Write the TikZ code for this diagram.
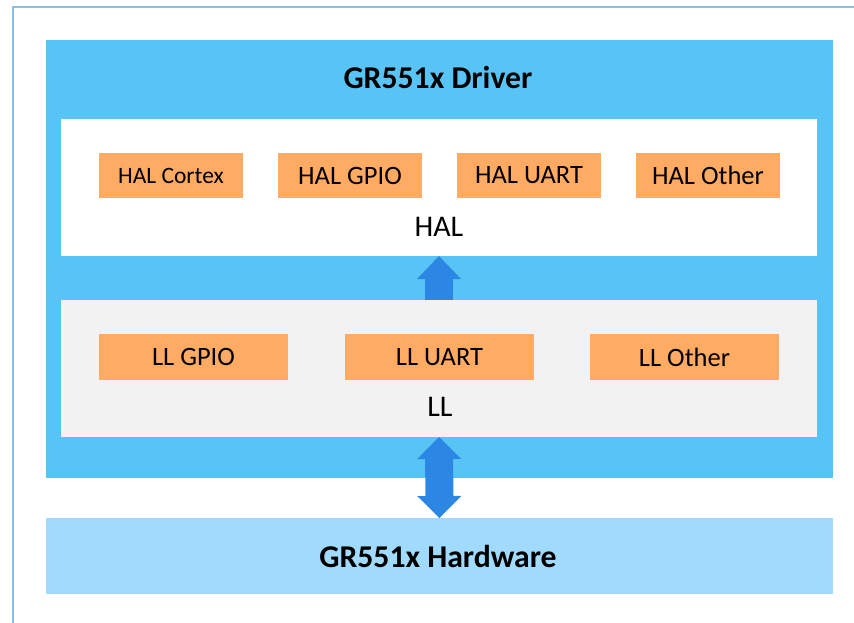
\documentclass[tikz,border=0pt]{standalone}
\usepackage{fontspec}
\setmainfont{Carlito}
\usepackage{xcolor}
\usetikzlibrary{arrows.meta}
\definecolor{framecol}{HTML}{8DBEE3}
\definecolor{driverblue}{HTML}{58C3F5}
\definecolor{hwblue}{HTML}{A0DBFE}
\definecolor{llgray}{HTML}{F2F2F2}
\definecolor{modorange}{HTML}{FFAB63}
\definecolor{arrowblue}{HTML}{2B87E3}

\begin{document}
\begin{tikzpicture}[x=1pt, y=-1pt,
    box/.style={inner sep=0pt, outer sep=0pt},
    module/.style={box, fill=modorange, minimum height=45pt, font=\fontsize{26.5}{30}\selectfont},
    caption/.style={inner sep=0pt, font=\fontsize{30}{34}\selectfont},
    headline/.style={inner sep=0pt, font=\bfseries\fontsize{31.7}{36}\selectfont},
    bigarrow/.style={draw=arrowblue, line width=28pt}]
    \useasboundingbox (0,0) rectangle (854,622);
    \clip (0,0) rectangle (854,622);

    % outer frame
    \draw[framecol, line width=1.5pt] (12.75,6.75) rectangle (880,650);

    % Driver block
    \node[box, fill=driverblue, minimum width=787pt, minimum height=438pt] (driver) at (439.5,259) {};
    \node[headline] (drvtitle) at (438,77.5) {GR551x Driver};

    % HAL layer
    \node[box, fill=white, minimum width=756pt, minimum height=137pt] (hal) at (439,187.5) {};
    \node[module, minimum width=144pt, font=\fontsize{23.5}{28}\selectfont] (halcortex) at (171,175.5) {HAL Cortex};
    \node[module, minimum width=144pt] (halgpio) at (350,175.5) {HAL GPIO};
    \node[module, minimum width=144pt] (haluart) at (529,175.5) {HAL UART};
    \node[module, minimum width=144pt] (halother) at (708,175.5) {HAL Other};
    \node[caption] (hallabel) at (439,226.5) {HAL};

    % LL layer
    \node[box, fill=llgray, minimum width=756pt, minimum height=137pt] (ll) at (439,368.5) {};
    \node[module, minimum width=189pt, minimum height=46pt] (llgpio) at (193.5,357) {LL GPIO};
    \node[module, minimum width=189pt, minimum height=46pt] (lluart) at (439.5,357) {LL UART};
    \node[module, minimum width=189pt, minimum height=46pt] (llother) at (684.5,357) {LL Other};
    \node[caption] (lllabel) at (440,407) {LL};

    % Hardware
    \node[box, fill=hwblue, minimum width=787pt, minimum height=76pt] (hw) at (439.5,556) {};
    \node[headline] (hwtitle) at (438,556) {GR551x Hardware};

    % Arrows
    \draw[bigarrow, -{Triangle[width=44pt, length=23pt, line width=0pt]}] (ll.north) -- (hal.south);
    \draw[bigarrow, {Triangle[width=44pt, length=22pt, line width=0pt]}-{Triangle[width=44pt, length=22pt, line width=0pt]}] (ll.south) -- (hw.north);
\end{tikzpicture}
\end{document}
